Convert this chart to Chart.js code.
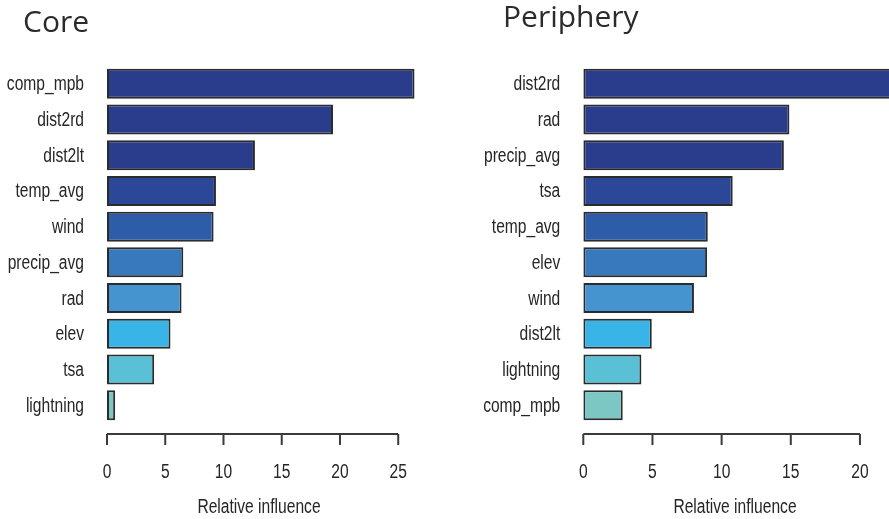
<!DOCTYPE html>
<html>
<head>
<meta charset="utf-8">
<script src="https://cdn.jsdelivr.net/npm/chart.js@4"></script>
<style>
    body { margin: 0; background: #fff; }
    .panel { position: absolute; top: 0; height: 519px; }
</style>
</head>
<body>
<div class="panel" style="left:0;width:444px"><canvas id="coreChart"></canvas></div>
<div class="panel" style="left:444px;width:445px"><canvas id="periChart"></canvas></div>
<script>
// Core panel
const coreLabels = ['comp_mpb', 'dist2rd', 'dist2lt', 'temp_avg', 'wind', 'precip_avg', 'rad', 'elev', 'tsa', 'lightning'];
const coreValues = [26.4, 19.4, 12.7, 9.35, 9.15, 6.55, 6.4, 5.45, 4.05, 0.7];
const coreTicks = [0, 5, 10, 15, 20, 25];

// Periphery panel
const periLabels = ['dist2rd', 'rad', 'precip_avg', 'tsa', 'temp_avg', 'elev', 'wind', 'dist2lt', 'lightning', 'comp_mpb'];
const periValues = [23, 14.9, 14.5, 10.8, 9.0, 8.95, 8.0, 4.95, 4.2, 2.85];
const periTicks = [0, 5, 10, 15, 20];

// same colour ramp in both panels, by rank
const rankColours = ['#2a3d8d', '#2a3d8d', '#2a3d8d', '#2b4898', '#2d5ca8', '#3878bc', '#4594d0', '#39b4e6', '#5ac0d6', '#7cc7c3'];

const labelFont = "20px 'Liberation Sans', Arial, sans-serif";
const squeeze = 0.78; // the original R plot is squashed horizontally
const textColour = '#262626';

// text drawn narrower, like the original
function narrowText(ctx, text, x, y, align) {
    ctx.save();
    ctx.translate(x, y);
    ctx.scale(squeeze, 1);
    ctx.textAlign = align;
    ctx.fillText(text, 0, 0);
    ctx.restore();
}

function buildPanel(canvasId, title, titleX, titleY, labels, values, ticks, xMax, axisWidth, axisTitleX) {
    // draws the R style detached axis, the category names, the panel title and the axis title
    const rAxisPlugin = {
        id: 'rAxis',
        afterDraw: (chart) => {
            const ctx = chart.ctx;
            const xs = chart.scales.x;
            const ys = chart.scales.y;
            const base = chart.chartArea.bottom + 11;
            const x0 = xs.getPixelForValue(ticks[0]);
            const x1 = xs.getPixelForValue(ticks[ticks.length - 1]);

            ctx.save();
            ctx.strokeStyle = '#3a3a3a';
            ctx.lineWidth = 2;
            ctx.beginPath();
            ctx.moveTo(x0, base);
            ctx.lineTo(x1, base);
            ticks.forEach(t => {
                const px = xs.getPixelForValue(t);
                ctx.moveTo(px, base);
                ctx.lineTo(px, base + 11);
            });
            ctx.stroke();

            ctx.fillStyle = textColour;
            ctx.font = labelFont;
            ctx.textBaseline = 'middle';
            ticks.forEach(t => {
                narrowText(ctx, String(t), xs.getPixelForValue(t), base + 38, 'center');
            });
            narrowText(ctx, 'Relative influence', axisTitleX, base + 73, 'center');

            labels.forEach((lab, i) => {
                narrowText(ctx, lab, chart.chartArea.left - 23, ys.getPixelForValue(i) + 1, 'right');
            });

            // panel title
            ctx.font = "30px 'Open Sans', sans-serif";
            ctx.fillStyle = '#2b2b2b';
            ctx.textAlign = 'left';
            ctx.textBaseline = 'alphabetic';
            ctx.fillText(title, titleX, titleY);
            ctx.restore();
        }
    };

    return new Chart(document.getElementById(canvasId), {
        type: 'bar',
        data: {
            labels,
            datasets: [{
                data: values,
                backgroundColor: rankColours,
                borderColor: '#2b2b2b',
                borderWidth: 2,
                borderSkipped: false,
                barPercentage: 0.84,
                categoryPercentage: 1
            }]
        },
        options: {
            indexAxis: 'y',
            responsive: true,
            maintainAspectRatio: false,
            animation: false,
            layout: { padding: { top: 66, bottom: 96, left: 0, right: 0 } },
            scales: {
                x: {
                    display: false,
                    min: 0,
                    max: xMax
                },
                y: {
                    grid: { display: false, drawTicks: false },
                    border: { display: false },
                    ticks: { display: false },
                    afterFit: (scale) => { scale.width = axisWidth; }
                }
            },
            plugins: {
                legend: { display: false },
                tooltip: { enabled: false }
            }
        },
        plugins: [rAxisPlugin]
    });
}

buildPanel('coreChart', 'Core', 23, 32, coreLabels, coreValues, coreTicks, 28.93, 107, 259);
buildPanel('periChart', 'Periphery', 59, 27, periLabels, periValues, periTicks, 22.1, 139.3, 291);
</script>
</body>
</html>
